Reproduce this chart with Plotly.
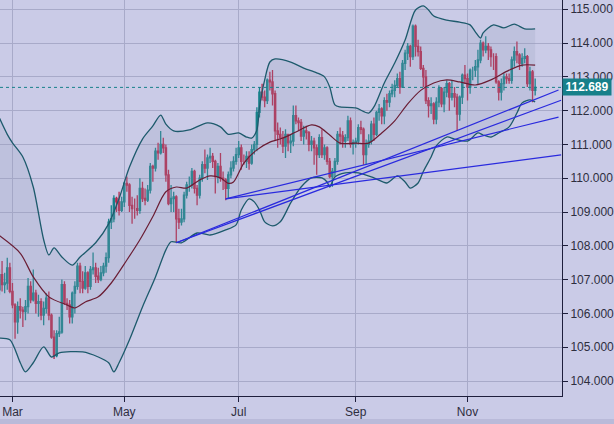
import pandas as pd
import plotly.graph_objects as go

# daily bars, weekdays only (Feb 22 - Dec 7)
dates = pd.bdate_range("2018-02-22", "2018-12-07")

opens = [
    106.70, 107.15, 106.85, 106.90, 107.35, 106.65, 106.25, 105.75, 106.20, 106.10,
    106.05, 106.20, 106.80, 106.40, 106.60, 106.30, 106.35, 105.95, 106.15, 106.45,
    105.95, 105.30, 104.75, 105.40, 105.45, 106.85, 106.30, 106.25, 105.90, 106.60,
    106.80, 107.40, 106.95, 106.75, 107.20, 106.80, 107.30, 107.35, 107.10, 107.00,
    107.20, 107.40, 107.65, 108.70, 108.80, 109.40, 109.30, 109.05, 109.30, 109.85,
    109.80, 109.20, 109.10, 109.10, 109.05, 109.70, 109.40, 109.35, 109.65, 110.35,
    110.30, 110.80, 110.75, 111.00, 110.90, 110.10, 109.25, 109.40, 109.45, 108.80,
    108.70, 108.80, 109.50, 109.80, 109.80, 110.20, 109.70, 109.50, 110.00, 110.40,
    110.30, 110.60, 110.65, 110.50, 110.05, 110.35, 110.00, 109.95, 109.70, 110.10,
    110.30, 110.50, 110.70, 110.90, 110.50, 110.50, 110.65, 110.45, 110.85, 111.00,
    111.95, 112.55, 112.40, 112.30, 112.90, 112.85, 112.50, 111.40, 111.30, 111.20,
    110.95, 111.30, 111.05, 111.10, 111.85, 111.70, 111.65, 111.25, 111.40, 111.35,
    111.00, 111.10, 110.90, 110.70, 111.20, 110.70, 110.90, 110.50, 110.05, 110.20,
    110.50, 111.30, 111.25, 111.10, 111.20, 111.70, 111.00, 111.05, 111.10, 111.50,
    111.45, 110.70, 111.00, 111.10, 111.60, 111.30, 111.95, 112.05, 111.85, 112.30,
    112.25, 112.50, 112.60, 112.75, 112.95, 112.70, 113.40, 113.70, 113.90, 113.60,
    114.50, 113.90, 113.75, 113.25, 113.00, 112.30, 112.15, 112.20, 111.75, 112.25,
    112.65, 112.20, 112.55, 112.80, 112.40, 112.50, 112.40, 111.90, 112.40, 113.05,
    112.95, 112.70, 113.20, 113.20, 113.30, 113.50, 114.00, 113.80, 113.90, 113.80,
    113.60, 113.60, 112.85, 112.55, 112.80, 113.00, 112.95, 112.90, 113.50, 113.75,
    113.65, 113.40, 113.55, 113.60, 112.80, 113.15, 112.60,
]
highs = [
    107.30, 107.55, 107.20, 107.65, 107.50, 106.90, 106.30, 106.35, 106.45, 106.20,
    106.40, 107.05, 106.95, 107.30, 106.70, 106.55, 106.45, 106.35, 106.60, 106.65,
    106.00, 105.50, 105.50, 105.90, 107.00, 106.95, 106.45, 106.40, 106.65, 106.95,
    107.50, 107.50, 107.25, 107.40, 107.25, 107.40, 107.80, 107.50, 107.35, 107.40,
    107.50, 107.80, 108.80, 109.20, 109.50, 109.45, 109.60, 109.45, 109.90, 110.05,
    109.85, 109.45, 109.40, 109.50, 110.00, 109.90, 109.70, 109.80, 110.45, 110.40,
    110.90, 111.05, 111.40, 111.20, 111.00, 110.25, 109.80, 109.60, 109.50, 109.10,
    109.10, 109.60, 109.90, 110.05, 110.30, 110.25, 109.80, 110.10, 110.50, 110.85,
    110.70, 110.90, 110.75, 110.55, 110.45, 110.75, 110.20, 110.00, 110.20, 110.50,
    110.65, 110.90, 111.10, 111.00, 110.70, 110.80, 110.80, 111.00, 111.10, 112.10,
    112.70, 112.80, 112.60, 112.95, 113.15, 113.20, 112.60, 111.65, 111.50, 111.40,
    111.45, 111.30, 111.30, 112.15, 112.15, 111.80, 111.75, 111.55, 111.55, 111.40,
    111.25, 111.20, 111.00, 111.30, 111.45, 111.00, 110.95, 110.60, 110.30, 110.60,
    111.40, 111.50, 111.40, 111.30, 111.85, 111.80, 111.15, 111.20, 111.60, 111.70,
    111.50, 111.15, 111.30, 111.70, 111.80, 112.00, 112.20, 112.10, 112.40, 112.50,
    112.60, 112.80, 112.90, 113.10, 113.15, 113.50, 113.80, 114.00, 113.95, 114.55,
    114.55, 114.10, 113.90, 113.35, 113.20, 112.40, 112.40, 112.25, 112.40, 112.75,
    112.70, 112.70, 112.90, 112.85, 112.90, 112.70, 112.50, 112.45, 113.10, 113.35,
    113.10, 113.25, 113.30, 113.50, 113.80, 114.10, 114.05, 114.20, 114.00, 113.90,
    113.70, 113.70, 112.90, 112.95, 113.10, 113.10, 113.10, 113.60, 113.90, 114.05,
    113.70, 113.70, 113.85, 113.65, 113.30, 113.20, 112.95,
]
lows = [
    106.55, 106.65, 106.60, 106.70, 106.60, 106.15, 105.25, 105.40, 105.85, 105.60,
    105.80, 106.00, 106.30, 106.35, 106.00, 105.90, 105.80, 105.65, 106.00, 105.80,
    105.25, 104.65, 104.70, 105.30, 105.40, 106.25, 106.10, 105.70, 105.70, 106.00,
    106.70, 106.60, 106.60, 106.70, 106.60, 106.70, 107.15, 106.90, 106.90, 106.95,
    107.10, 107.20, 107.50, 108.50, 108.70, 109.00, 108.90, 109.00, 109.15, 109.60,
    109.00, 108.65, 108.80, 108.90, 108.95, 109.30, 109.20, 109.30, 109.55, 109.90,
    110.20, 110.55, 110.70, 110.75, 109.90, 109.20, 109.00, 109.00, 108.10, 108.50,
    108.60, 108.70, 109.40, 109.60, 109.70, 109.55, 109.20, 109.40, 109.90, 110.15,
    109.95, 110.45, 110.30, 109.55, 109.85, 109.90, 109.65, 109.35, 109.40, 110.00,
    110.20, 110.40, 110.60, 110.25, 110.40, 110.30, 110.25, 110.40, 110.70, 110.80,
    111.80, 112.30, 112.10, 112.20, 112.60, 112.15, 111.10, 110.90, 111.00, 110.75,
    110.60, 110.80, 110.75, 110.95, 111.60, 111.40, 111.10, 111.00, 111.15, 110.80,
    110.80, 110.40, 110.10, 110.60, 110.60, 110.55, 110.40, 110.00, 109.75, 110.05,
    110.40, 111.00, 110.90, 110.90, 111.10, 110.90, 110.70, 110.90, 111.00, 111.30,
    110.40, 110.40, 110.90, 111.00, 111.10, 111.25, 111.70, 111.60, 111.60, 112.00,
    112.10, 112.40, 112.40, 112.70, 112.50, 112.70, 113.20, 113.50, 113.30, 113.50,
    113.60, 113.60, 113.20, 112.70, 112.20, 111.80, 111.90, 111.60, 111.60, 112.10,
    112.10, 111.95, 112.40, 112.00, 112.30, 112.10, 111.40, 111.70, 112.20, 112.80,
    112.30, 112.50, 112.90, 113.00, 112.80, 113.40, 113.60, 113.70, 113.50, 113.30,
    113.20, 112.80, 112.30, 112.30, 112.60, 112.80, 112.80, 112.80, 113.30, 113.40,
    113.20, 113.30, 113.40, 112.70, 112.60, 112.25, 112.45,
]
closes = [
    107.15, 106.85, 106.90, 107.35, 106.65, 106.25, 105.75, 106.20, 106.10, 106.05,
    106.20, 106.80, 106.40, 106.60, 106.30, 106.35, 105.95, 106.15, 106.45, 105.95,
    105.30, 104.75, 105.40, 105.45, 106.85, 106.30, 106.25, 105.90, 106.60, 106.80,
    107.40, 106.95, 106.75, 107.20, 106.80, 107.30, 107.35, 107.10, 107.00, 107.20,
    107.40, 107.65, 108.70, 108.80, 109.40, 109.30, 109.05, 109.30, 109.85, 109.80,
    109.20, 109.10, 109.10, 109.05, 109.70, 109.40, 109.35, 109.65, 110.35, 110.30,
    110.80, 110.75, 111.00, 110.90, 110.10, 109.25, 109.40, 109.45, 108.80, 108.70,
    108.80, 109.50, 109.80, 109.80, 110.20, 109.70, 109.50, 110.00, 110.40, 110.30,
    110.60, 110.65, 110.50, 110.05, 110.35, 110.00, 109.95, 109.70, 110.10, 110.30,
    110.50, 110.70, 110.90, 110.50, 110.50, 110.65, 110.45, 110.85, 111.00, 111.95,
    112.55, 112.40, 112.30, 112.90, 112.85, 112.50, 111.40, 111.30, 111.20, 110.95,
    111.30, 111.05, 111.10, 111.85, 111.70, 111.65, 111.25, 111.40, 111.35, 111.00,
    111.10, 110.90, 110.70, 111.20, 110.70, 110.90, 110.50, 110.05, 110.20, 110.50,
    111.30, 111.25, 111.10, 111.20, 111.70, 111.00, 111.05, 111.10, 111.50, 111.45,
    110.70, 111.00, 111.10, 111.60, 111.30, 111.95, 112.05, 111.85, 112.30, 112.25,
    112.50, 112.60, 112.75, 112.95, 112.70, 113.40, 113.70, 113.90, 113.60, 114.50,
    113.90, 113.75, 113.25, 113.00, 112.30, 112.15, 112.20, 111.75, 112.25, 112.65,
    112.20, 112.55, 112.80, 112.40, 112.50, 112.40, 111.90, 112.40, 113.05, 112.95,
    112.70, 113.20, 113.20, 113.30, 113.50, 114.00, 113.80, 113.90, 113.80, 113.60,
    113.60, 112.85, 112.55, 112.80, 113.00, 112.95, 112.90, 113.50, 113.75, 113.65,
    113.40, 113.55, 113.60, 112.80, 113.15, 112.60, 112.69,
]

# bollinger band readings (bar index -> price)
upper_idx = [0, 3, 5, 9, 13, 17, 19, 21, 24, 28, 31, 37, 42, 46, 50, 55, 59, 62, 64, 67,
             73, 80, 85, 88, 92, 95, 97, 99, 100, 102, 104, 106, 112, 117, 122, 125, 127, 129, 131, 137,
             142, 144, 148, 152, 156, 160, 163, 165, 167, 172, 177, 181, 183, 185, 186, 190, 194, 198, 202, 206]
upper_val = [111.78, 111.30, 111.05, 110.63, 109.74, 108.18, 107.73, 107.94, 107.67, 107.43,
             107.67, 108.09, 108.65, 109.40, 110.33, 111.16, 111.55, 111.87, 111.60, 111.40,
             111.43, 111.64, 111.52, 111.30, 111.34, 111.22, 111.19, 111.43, 112.10, 112.91,
             113.44, 113.53, 113.44, 113.26, 113.12, 113.00, 112.70, 112.17, 112.11, 112.08,
             111.93, 112.11, 112.82, 113.41, 114.09, 114.98, 115.10, 114.98, 114.80, 114.68,
             114.62, 114.54, 114.33, 114.15, 114.30, 114.54, 114.45, 114.56, 114.42, 114.42]
mid_idx = [0, 8, 13, 19, 26, 29, 33, 38, 43, 49, 54, 59, 64, 68, 72, 77, 81, 85, 88, 90,
           94, 99, 104, 109, 114, 120, 123, 127, 131, 137, 142, 147, 152, 157, 162, 167, 172, 177, 183, 189,
           196, 201, 206]
mid_val = [108.30, 107.78, 107.08, 106.49, 106.25, 106.16, 106.34, 106.49, 106.90, 107.58,
           108.18, 108.87, 109.60, 109.74, 109.71, 109.95, 110.07, 110.01, 109.85, 109.89,
           110.45, 110.84, 111.07, 111.19, 111.37, 111.58, 111.52, 111.28, 111.04, 111.04,
           111.04, 111.34, 111.70, 112.20, 112.60, 112.82, 112.91, 112.85, 112.76, 112.91,
           113.20, 113.35, 113.35]
lower_idx = [0, 4, 8, 10, 13, 17, 20, 23, 32, 38, 42, 44, 46, 50, 55, 60, 64, 66, 70, 76,
             81, 87, 91, 93, 96, 98, 100, 102, 105, 108, 112, 116, 120, 124, 126, 127, 129, 133, 138, 144,
             149, 153, 156, 158, 161, 163, 166, 168, 172, 175, 180, 184, 186, 189, 192, 196, 199, 201, 204, 206]
lower_val = [105.27, 105.22, 104.54, 104.27, 104.54, 105.01, 104.71, 104.83, 104.86, 104.71,
             104.54, 104.27, 104.54, 105.22, 106.19, 107.08, 107.88, 108.12, 108.09, 108.38,
             108.32, 108.47, 108.62, 109.06, 109.39, 109.30, 109.06, 108.71, 108.59, 108.71,
             109.27, 109.74, 110.01, 110.01, 109.89, 109.74, 110.04, 110.16, 110.16, 110.01,
             109.86, 110.07, 109.89, 109.71, 109.86, 110.20, 110.63, 110.96, 111.22, 111.16,
             111.10, 111.34, 111.28, 111.22, 111.34, 111.52, 111.93, 112.23, 112.32, 112.26]

# hand-drawn trend lines
trend_x0 = ["2018-05-29", "2018-05-29", "2018-06-25", "2018-06-25"]
trend_y0 = [108.09, 108.09, 109.39, 109.39]
trend_x1 = ["2018-12-20", "2018-12-21", "2018-12-20", "2018-12-21"]
trend_y1 = [112.61, 112.31, 111.81, 110.69]

last_price = 112.689
price_ticks = [104, 105, 106, 107, 108, 109, 110, 111, 112, 113, 114, 115]
month_ticks = ["2018-03-01", "2018-05-01", "2018-07-02", "2018-09-03", "2018-11-01"]
month_labels = ["Mar", "May", "Jul", "Sep", "Nov"]

BG = "#cacbe7"
TEAL = "#17808a"
RED = "#b3284c"
BAND = "#1d5a6c"
MID = "#6a1d34"
TREND = "#2a2ade"

fig = go.Figure()

fig.add_trace(go.Scatter(
    x=dates[lower_idx], y=lower_val, mode="lines",
    line=dict(color=BAND, width=1.3, shape="spline", smoothing=0.8),
    hoverinfo="skip",
))
fig.add_trace(go.Scatter(
    x=dates[upper_idx], y=upper_val, mode="lines",
    line=dict(color=BAND, width=1.3, shape="spline", smoothing=0.8),
    fill="tonexty", fillcolor="rgba(150,160,185,0.22)",
    hoverinfo="skip",
))

fig.add_trace(go.Candlestick(
    x=dates, open=opens, high=highs, low=lows, close=closes,
    increasing=dict(line=dict(color=TEAL, width=1.3), fillcolor=TEAL),
    decreasing=dict(line=dict(color=RED, width=1.3), fillcolor=RED),
    whiskerwidth=0,
))

fig.add_trace(go.Scatter(
    x=dates[mid_idx], y=mid_val, mode="lines",
    line=dict(color=MID, width=1.2, shape="spline", smoothing=0.8),
    hoverinfo="skip",
))

for x0, y0, x1, y1 in zip(trend_x0, trend_y0, trend_x1, trend_y1):
    fig.add_trace(go.Scatter(
        x=[x0, x1], y=[y0, y1], mode="lines",
        line=dict(color=TREND, width=1.2), hoverinfo="skip",
    ))

# current price line + label
fig.add_shape(type="line", xref="paper", x0=0, x1=1, yref="y",
              y0=last_price, y1=last_price,
              line=dict(color=TEAL, width=1, dash="dot"))
fig.add_annotation(x=1, xref="paper", xanchor="left", y=last_price, yref="y",
                   yanchor="middle", text="<b>%.3f</b>" % last_price, showarrow=False,
                   bgcolor=TEAL, width=48, height=16, borderpad=0, align="center",
                   font=dict(color="white", size=12, family="Liberation Sans, Arial"))

# darker strip along the bottom edge
fig.add_shape(type="rect", xref="paper", yref="paper", x0=-0.01, x1=1.1,
              y0=-0.072, y1=-0.058, line=dict(width=0), fillcolor="#b9bad9")

fig.update_layout(
    width=614, height=424,
    margin=dict(l=0, r=49, t=0, b=28),
    paper_bgcolor=BG, plot_bgcolor=BG,
    showlegend=False,
    font=dict(family="Liberation Sans, Arial", size=12, color="#2e2e3e"),
    xaxis=dict(
        type="date",
        range=["2018-02-22 05:00", "2018-12-21 08:00"],
        rangebreaks=[dict(bounds=["sat", "mon"])],
        rangeslider=dict(visible=False),
        tickvals=month_ticks, ticktext=month_labels,
        showgrid=True, gridcolor="#a8aac9", gridwidth=1,
        showline=True, linecolor="#1e1e3c", linewidth=1,
        ticks="outside", ticklen=5, tickcolor="#1e1e3c",
        zeroline=False,
    ),
    yaxis=dict(
        side="right",
        range=[103.556, 115.275],
        tickvals=price_ticks, tickformat=".3f",
        showgrid=True, gridcolor="#a8aac9", gridwidth=1,
        showline=True, linecolor="#1e1e3c", linewidth=1,
        ticks="outside", ticklen=5, tickcolor="#1e1e3c",
        zeroline=False,
    ),
)

# page body has a default 8px margin; drop it so the chart fills the window
fig.write_html("out.html", config={"displayModeBar": False},
               post_script="document.body.style.margin='0';")
